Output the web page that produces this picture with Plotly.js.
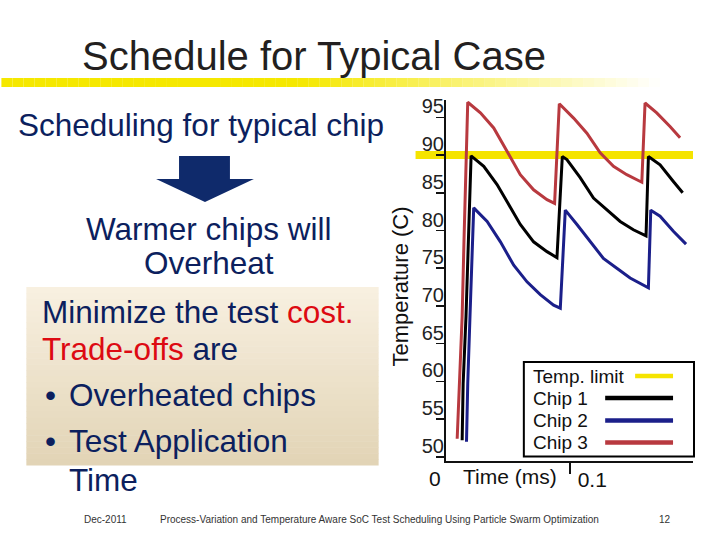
<!DOCTYPE html>
<html>
<head>
<meta charset="utf-8">
<script src="https://cdn.plot.ly/plotly-3.0.1.min.js"></script>
<style>html,body{margin:0;padding:0;background:#fff;}#chart{width:720px;height:540px;}</style>
</head>
<body>
<div id="chart"></div>
<script>
// ---- data ----
const seriesNames = ["Temp. limit", "Chip 1", "Chip 2", "Chip 3"];
const tempLimit = 90;
const chip1Time = [0.0130,0.0138,0.0161,0.0183,0.0202,0.0304,0.0411,0.0492,0.0598,0.0705,0.0813,0.0893,0.0936,0.0973,0.1080,0.1187,0.1295,0.1402,0.1508,0.1610,0.1629,0.1723,0.1830,0.1905];
const chip1Temp = [52.2,59.7,68.6,80.4,89.9,88.5,86.1,83.8,80.8,78.5,77.2,76.4,89.8,89.4,87.0,84.3,82.7,81.2,80.1,79.3,89.8,88.7,86.5,85.0];
const chip2Time = [0.0165,0.0175,0.0193,0.0209,0.0223,0.0331,0.0438,0.0545,0.0652,0.0759,0.0866,0.0920,0.0960,0.1054,0.1161,0.1267,0.1375,0.1482,0.1629,0.1648,0.1723,0.1830,0.1932];
const chip2Temp = [52.0,59.7,68.6,78.1,83.0,81.2,78.5,75.4,73.2,71.5,70.1,69.7,82.7,80.8,78.5,76.3,75.0,73.7,72.4,82.7,81.9,79.9,78.2];
const chip3Time = [0.0090,0.0108,0.0130,0.0145,0.0159,0.0175,0.0277,0.0384,0.0491,0.0598,0.0705,0.0813,0.0874,0.0912,0.1027,0.1134,0.1241,0.1348,0.1455,0.1576,0.1602,0.1696,0.1803,0.1884];
const chip3Temp = [52.4,59.7,68.6,78.8,89.2,97.0,95.6,93.6,90.5,87.4,85.4,84.1,83.6,96.8,94.9,92.9,90.3,88.5,87.4,86.4,96.9,95.6,93.8,92.3];
const yTicks = [50,55,60,65,70,75,80,85,90,95];
const xTicks = [0.1];
const xTickText = ["0.1"];

// ---- layout geometry ----
const W = 720, H = 540;
const M = {l: 445.5, r: 27, t: 100, b: 79};
const PW = W - M.l - M.r, PH = H - M.t - M.b;
const X = px => (px - M.l) / PW;
const Y = py => (H - M.b - py) / PH;

const colors = {limit: "#f5e400", chip1: "#000000", chip2: "#1b1f8a", chip3: "#b8393f"};
const navy = "#0c1f5e", red = "#dd0a12", FONT = "Liberation Sans, Arial, sans-serif";

const traces = [
  {x: chip1Time, y: chip1Temp, name: seriesNames[1], mode: "lines", line: {color: colors.chip1, width: 3}},
  {x: chip2Time, y: chip2Temp, name: seriesNames[2], mode: "lines", line: {color: colors.chip2, width: 3}},
  {x: chip3Time, y: chip3Temp, name: seriesNames[3], mode: "lines", line: {color: colors.chip3, width: 3}}
];

const shapes = [];
// yellow fading bar under the title
const nBar = 60;
for (let i = 0; i < nBar; i++) {
  const x0 = i * 660 / nBar, x1 = (i + 1) * 660 / nBar;
  const t = (x0 + x1) / 2 / 660;
  const a = t < 0.45 ? 1 : Math.max(0, 1 - (t - 0.45) / 0.55);
  shapes.push({type: "rect", xref: "paper", yref: "paper", x0: X(x0), x1: X(x1), y0: Y(87), y1: Y(78),
    fillcolor: `rgba(245,232,0,${a.toFixed(3)})`, line: {width: 0}, layer: "below"});
}
// beige gradient box
const nBox = 30;
for (let i = 0; i < nBox; i++) {
  const y0 = 287 + i * 178 / nBox, y1 = 287 + (i + 1) * 178 / nBox;
  const t = i / (nBox - 1);
  const r = Math.round(248 - t * 22), g = Math.round(240 - t * 28), b = Math.round(224 - t * 42);
  shapes.push({type: "rect", xref: "paper", yref: "paper", x0: X(25), x1: X(378), y0: Y(y1 + 0.5), y1: Y(y0),
    fillcolor: `rgb(${r},${g},${b})`, line: {width: 0}, layer: "below"});
}
// down arrow
shapes.push({type: "path", xref: "paper", yref: "paper", layer: "above",
  path: `M ${X(178)} ${Y(156)} L ${X(229)} ${Y(156)} L ${X(229)} ${Y(179)} L ${X(253)} ${Y(179)} L ${X(204)} ${Y(202)} L ${X(155)} ${Y(179)} L ${X(178)} ${Y(179)} Z`,
  fillcolor: "#0f2a6b", line: {width: 0}});
// temperature limit line (through the y scale)
shapes.push({type: "line", xref: "paper", yref: "y", x0: X(415), x1: 1, y0: tempLimit, y1: tempLimit,
  line: {color: colors.limit, width: 8}, layer: "below"});
// legend box
shapes.push({type: "rect", xref: "paper", yref: "paper", x0: X(523.5), x1: X(694), y0: Y(456.5), y1: Y(362),
  fillcolor: "#ffffff", line: {color: "#000", width: 2}, layer: "above"});
const legendColors = [colors.limit, colors.chip1, colors.chip2, colors.chip3];
const legendY = [376, 398, 420.5, 442.5];
const legendX0 = [635, 605, 605, 605];
legendColors.forEach((c, i) => {
  shapes.push({type: "line", xref: "paper", yref: "paper", x0: X(legendX0[i]), x1: X(673), y0: Y(legendY[i]), y1: Y(legendY[i]),
    line: {color: c, width: 4.5}, layer: "above"});
});

const ann = (text, px, py, size, color, xanchor = "center", extra = {}) => Object.assign({
  text, x: X(px), y: Y(py), xref: "paper", yref: "paper", xanchor, yanchor: "middle",
  showarrow: false, font: {family: FONT, size, color}}, extra);

const annotations = [
  ann("Schedule for Typical Case", 79, 56, 40, "#231f20", "left"),
  ann("Scheduling for typical chip", 200, 125, 31.5, navy),
  ann("Warmer chips will", 208, 229, 31.5, navy),
  ann("Overheat", 208, 263, 31.5, navy),
  ann(`Minimize the test <span style="color:${red}">cost.</span>`, 39, 312, 31.5, navy, "left"),
  ann(`<span style="color:${red}">Trade-offs</span> are`, 39, 349, 31.5, navy, "left"),
  ann("•", 49, 395, 31.5, navy),
  ann("Overheated chips", 66, 395, 31.5, navy, "left"),
  ann("•", 49, 441, 31.5, navy),
  ann("Test Application", 66, 441, 31.5, navy, "left"),
  ann("Time", 66, 480, 31.5, navy, "left"),
  ann("Dec-2011", 104, 519, 10, "#333"),
  ann("Process-Variation and Temperature Aware SoC Test Scheduling Using Particle Swarm Optimization", 379, 519, 10, "#333"),
  ann("12", 665, 519, 10, "#333"),
  ann("Time (ms)", 510, 476, 21, "#111"),
  ann("0", 442, 478, 21, "#111", "right"),
  ann("Temperature (C)", 399, 287, 22, "#111", "center", {textangle: -90})
];
seriesNames.forEach((n, i) => annotations.push(ann(n, 531, legendY[i], 19, "#111", "left")));

const layout = {
  width: W, height: H, margin: M, showlegend: false,
  paper_bgcolor: "#ffffff", plot_bgcolor: "rgba(0,0,0,0)",
  font: {family: FONT, color: "#111"},
  xaxis: {range: [0, PW / 1245], showline: true, linewidth: 2, linecolor: "#111", showgrid: false, zeroline: false,
    tickvals: xTicks, ticktext: xTickText, ticks: "outside", ticklen: 11, tickwidth: 2, tickcolor: "#111",
    ticklabelshift: 22, ticklabelstandoff: -12, tickfont: {size: 21, color: "#111"}},
  yaxis: {range: [49.45, 97.3], showline: true, linewidth: 2, linecolor: "#111", showgrid: false, zeroline: false,
    tickvals: yTicks, ticks: "outside", ticklen: 8, tickwidth: 1.5, tickcolor: "#111",
    ticklabelshift: -11, ticklabelstandoff: -12, tickfont: {size: 20, color: "#222"}},
  shapes, annotations
};

Plotly.newPlot("chart", traces, layout, {staticPlot: true, displayModeBar: false});
</script>
</body>
</html>
